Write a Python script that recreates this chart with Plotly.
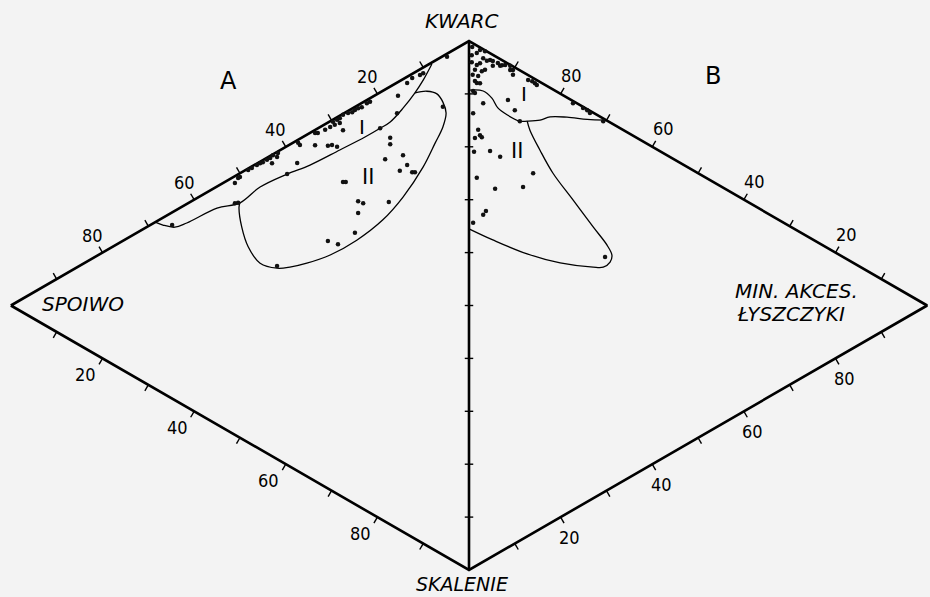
import math
import plotly.graph_objects as go

# ---------------- DATA (percent) ----------------
# Triangle A: KWARC - SPOIWO - SKALENIE (skalenie = 100 - kwarc - spoiwo)
A_spoiwo = [4.8, 10.0, 10.7, 12.4, 13.5, 15.5, 15.7, 19.4, 21.6, 22.3, 23.4, 24.2, 24.9, 25.5,
            26.4, 27.5, 28.2, 28.8, 29.7, 28.2, 29.3, 30.3, 31.4, 27.5, 33.0, 33.6, 17.2, 17.2,
            30.8, 29.9, 28.8, 36.9, 33.6, 37.5, 39.7, 41.7, 42.8, 43.4, 44.1, 45.0, 45.6, 46.3,
            47.4, 48.2, 43.0, 41.9, 50.0, 50.4, 51.1, 51.1, 50.4, 64.8, 18.3, 14.4, 13.5, 15.1,
            12.4, 11.8, 27.5, 26.9, 24.2, 23.1, 17.5, 24.2, 24.9, 28.6, 30.8, 41.9, 5.7, 37.3]
A_kwarc = [94.6, 88.9, 88.2, 86.8, 85.3, 81.9, 78.5, 73.8, 77.7, 77.1, 75.8, 75.2, 74.5, 73.8,
           73.2, 72.3, 71.3, 70.7, 69.9, 70.4, 69.5, 68.6, 67.5, 69.4, 66.1, 65.8, 73.1, 71.9,
           64.8, 65.4, 65.6, 61.9, 63.5, 58.2, 55.0, 58.0, 57.0, 56.2, 55.5, 54.6, 54.1, 53.4,
           52.3, 51.5, 55.4, 57.1, 49.3, 48.9, 47.6, 43.8, 44.2, 32.8, 68.5, 71.2, 69.8, 67.9,
           69.0, 69.3, 59.6, 59.9, 57.6, 57.8, 60.8, 55.4, 51.3, 47.3, 46.8, 36.5, 84.7, 62.1]

# Triangle B: KWARC - MIN. AKCES. ŁYSZCZYKI - SKALENIE
B_min = [1.7, 2.4, 3.5, 3.1, 4.6, 3.9, 5.2, 1.7, 1.3, 3.5, 6.3, 7.2, 7.9, 9.0, 9.6, 9.6, 9.0,
         6.8, 12.9, 13.8, 14.4, 14.8, 1.7, 2.4, 0.9, 1.3, 3.1, 8.5, 10.0, 0.9, 22.7, 24.9, 25.8,
         26.4, 29.3, 11.1, 2.0, 2.4, 1.3, 2.8, 1.1, 4.6, 6.8, 1.7, 5.7, 11.8, 14.0, 3.7, 3.1,
         0.9, 29.7, 2.4, 2.8, 5.2, 2.0, 1.3, 0.7, 0.6, 0.6, 0.8]
B_kwarc = [96.9, 97.1, 96.3, 95.2, 94.1, 94.3, 93.6, 94.6, 93.9, 92.8, 92.7, 91.8, 91.5, 90.8,
           89.7, 88.8, 90.0, 91.9, 86.2, 85.5, 84.8, 84.3, 91.2, 90.8, 90.1, 89.5, 86.7, 84.6,
           81.9, 85.9, 76.9, 74.9, 74.0, 73.2, 70.2, 79.3, 82.2, 81.0, 81.0, 80.4, 78.5, 76.9,
           74.7, 73.3, 69.2, 66.5, 68.0, 66.0, 65.6, 65.2, 44.3, 94.6, 92.9, 92.7, 92.4, 91.8,
           98.5, 97.0, 95.7, 93.2]

# Field boundaries
A_I_spoiwo = [8.1, 10.0, 11.8, 14.4, 17.2, 19.4, 22.7, 28.2, 34.7, 39.7, 45.6, 50.0, 55.0, 61.6, 64.2, 66.8, 68.5]
A_I_kwarc = [91.6, 87.6, 84.3, 80.1, 76.1, 73.8, 70.5, 65.3, 59.2, 55.0, 49.6, 44.4, 40.9, 34.8, 32.7, 31.8, 31.5]
A_II_spoiwo = [11.8, 9.2, 7.0, 5.7, 5.0, 5.7, 7.4, 10.0, 14.4, 18.8, 24.5, 30.3, 35.4, 39.1, 41.9, 45.6, 48.2, 49.6, 50.2, 50.0]
A_II_kwarc = [84.3, 85.9, 86.5, 85.6, 83.9, 80.9, 77.0, 71.2, 63.3, 56.8, 50.1, 44.4, 40.3, 37.7, 36.1, 35.2, 37.0, 40.0, 43.5, 44.4]
B_I_min = [0.0, 3.1, 5.0, 6.3, 8.3, 11.1, 12.7, 15.5, 17.7, 21.4, 25.8, 29.7]
B_I_kwarc = [90.7, 89.0, 86.7, 84.2, 81.9, 79.3, 78.5, 77.3, 76.8, 74.9, 72.3, 70.2]
B_II_min = [12.7, 13.3, 15.5, 18.3, 22.7, 27.1, 30.1, 31.2, 30.8, 29.3, 27.1, 19.9, 12.7, 5.2, 0.0]
B_II_kwarc = [78.5, 76.5, 71.6, 65.9, 58.6, 51.3, 46.4, 43.9, 42.8, 42.6, 43.7, 48.1, 53.4, 59.8, 64.5]

TICKS = [10, 20, 30, 40, 50, 60, 70, 80, 90]
LABELS = [20, 40, 60, 80]

# ---------------- geometry ----------------
R3 = math.sqrt(3) / 2


def pos_A(kw, sp):
    return -R3 * sp / 100.0, kw / 100.0 + 0.5 * sp / 100.0


def pos_B(kw, mn):
    return R3 * mn / 100.0, kw / 100.0 + 0.5 * mn / 100.0


def conv(fn, kws, others):
    xs, ys = [], []
    for k, o in zip(kws, others):
        x, y = fn(k, o)
        xs.append(x)
        ys.append(y)
    return xs, ys


FONT = "DejaVu Sans"
NUMFONT = "DejaVu Sans Condensed, DejaVu Sans"
BG = "#f3f3f3"

fig = go.Figure()

K = pos_A(100, 0)
SP = pos_A(0, 100)
SK = pos_A(0, 0)
M = pos_B(0, 100)

# frame
fig.add_trace(go.Scatter(
    x=[SP[0], K[0], M[0], SK[0], SP[0], None, K[0], SK[0]],
    y=[SP[1], K[1], M[1], SK[1], SP[1], None, K[1], SK[1]],
    mode="lines", line=dict(color="black", width=2.6), hoverinfo="skip"))

# ticks
tl = 0.013
tx, ty = [], []
for v in TICKS:
    for (x, y), (nx, ny) in [
        (pos_A(100 - v, v), (-0.5, R3)),      # A upper edge
        (pos_A(0, v), (-0.5, -R3)),           # A lower edge
        (pos_B(100 - v, v), (0.5, R3)),       # B upper edge
        (pos_B(0, v), (0.5, -R3)),            # B lower edge
    ]:
        tx += [x, x + nx * tl, None]
        ty += [y, y + ny * tl, None]
    tx += [-0.008, 0.008, None]
    ty += [v / 100.0, v / 100.0, None]
fig.add_trace(go.Scatter(x=tx, y=ty, mode="lines", line=dict(color="black", width=1.4),
                         hoverinfo="skip"))

# field boundaries
for fn, kw, ot in [(pos_A, A_I_kwarc, A_I_spoiwo), (pos_A, A_II_kwarc, A_II_spoiwo),
                   (pos_B, B_I_kwarc, B_I_min), (pos_B, B_II_kwarc, B_II_min)]:
    xs, ys = conv(fn, kw, ot)
    fig.add_trace(go.Scatter(x=xs, y=ys, mode="lines",
                             line=dict(color="black", width=1.3, shape="spline", smoothing=1.0),
                             hoverinfo="skip"))

# points
xa, ya = conv(pos_A, A_kwarc, A_spoiwo)
xb, yb = conv(pos_B, B_kwarc, B_min)
fig.add_trace(go.Scatter(x=xa + xb, y=ya + yb, mode="markers",
                         marker=dict(color="#111", size=4.5), hoverinfo="skip"))

ann = []


def label(x, y, text, size, xs=0, ys=0, italic=False, family=FONT, xanchor="center"):
    ann.append(dict(x=x, y=y, text=text, showarrow=False, xshift=xs, yshift=ys, xanchor=xanchor,
                    font=dict(family=family, size=size, color="black",
                              style="italic" if italic else "normal")))


for v in LABELS:
    x, y = pos_A(100 - v, v)
    label(x, y, str(v), 18, -10, 17, family=NUMFONT)
    x, y = pos_A(0, 100 - v)
    label(x, y, str(v), 18, -17, -16, family=NUMFONT)
    x, y = pos_B(v, 100 - v)
    label(x, y, str(v), 18, 11, 18, family=NUMFONT)
    x, y = pos_B(0, v)
    label(x, y, str(v), 18, 9, -20, family=NUMFONT)

# vertex names
label(K[0], K[1], "KWARC", 20, -8, 20, italic=True)
label(SK[0], SK[1], "SKALENIE", 19, -7, -14, italic=True)
label(SP[0], SP[1], "SPOIWO", 20, 72, 2, italic=True)
label(M[0], M[1], "MIN. AKCES.", 20, -194, 15, italic=True, xanchor="left")
label(M[0], M[1], "ŁYSZCZYKI", 20, -192, -8, italic=True, xanchor="left")

# triangle and field names (placed in composition space)
xA, yA = pos_A(66.2, 52.4)
label(xA, yA, "A", 24)
xB, yB = pos_B(66.7, 53.3)
label(xB, yB, "B", 24)
x1, y1 = pos_A(72, 23.4)
label(x1, y1, "I", 20)
x2, y2 = pos_A(63.2, 22.1)
label(x2, y2, "II", 21)
x3, y3 = pos_B(84, 12)
label(x3, y3, "I", 20)
x4, y4 = pos_B(74, 10.5)
label(x4, y4, "II", 21)

fig.update_layout(
    width=930, height=597,
    margin=dict(l=0, r=0, t=0, b=0),
    paper_bgcolor=BG, plot_bgcolor=BG,
    showlegend=False,
    annotations=ann,
    xaxis=dict(range=[-469 / 529, 461 / 529], visible=False, fixedrange=True),
    yaxis=dict(range=[-27 / 529, 570 / 529], visible=False, fixedrange=True),
)

fig.write_html("out.html", config={"displayModeBar": False},
               post_script="document.body.style.margin='0';document.body.style.overflow='hidden';"
                           "document.body.style.background='" + BG + "';")
